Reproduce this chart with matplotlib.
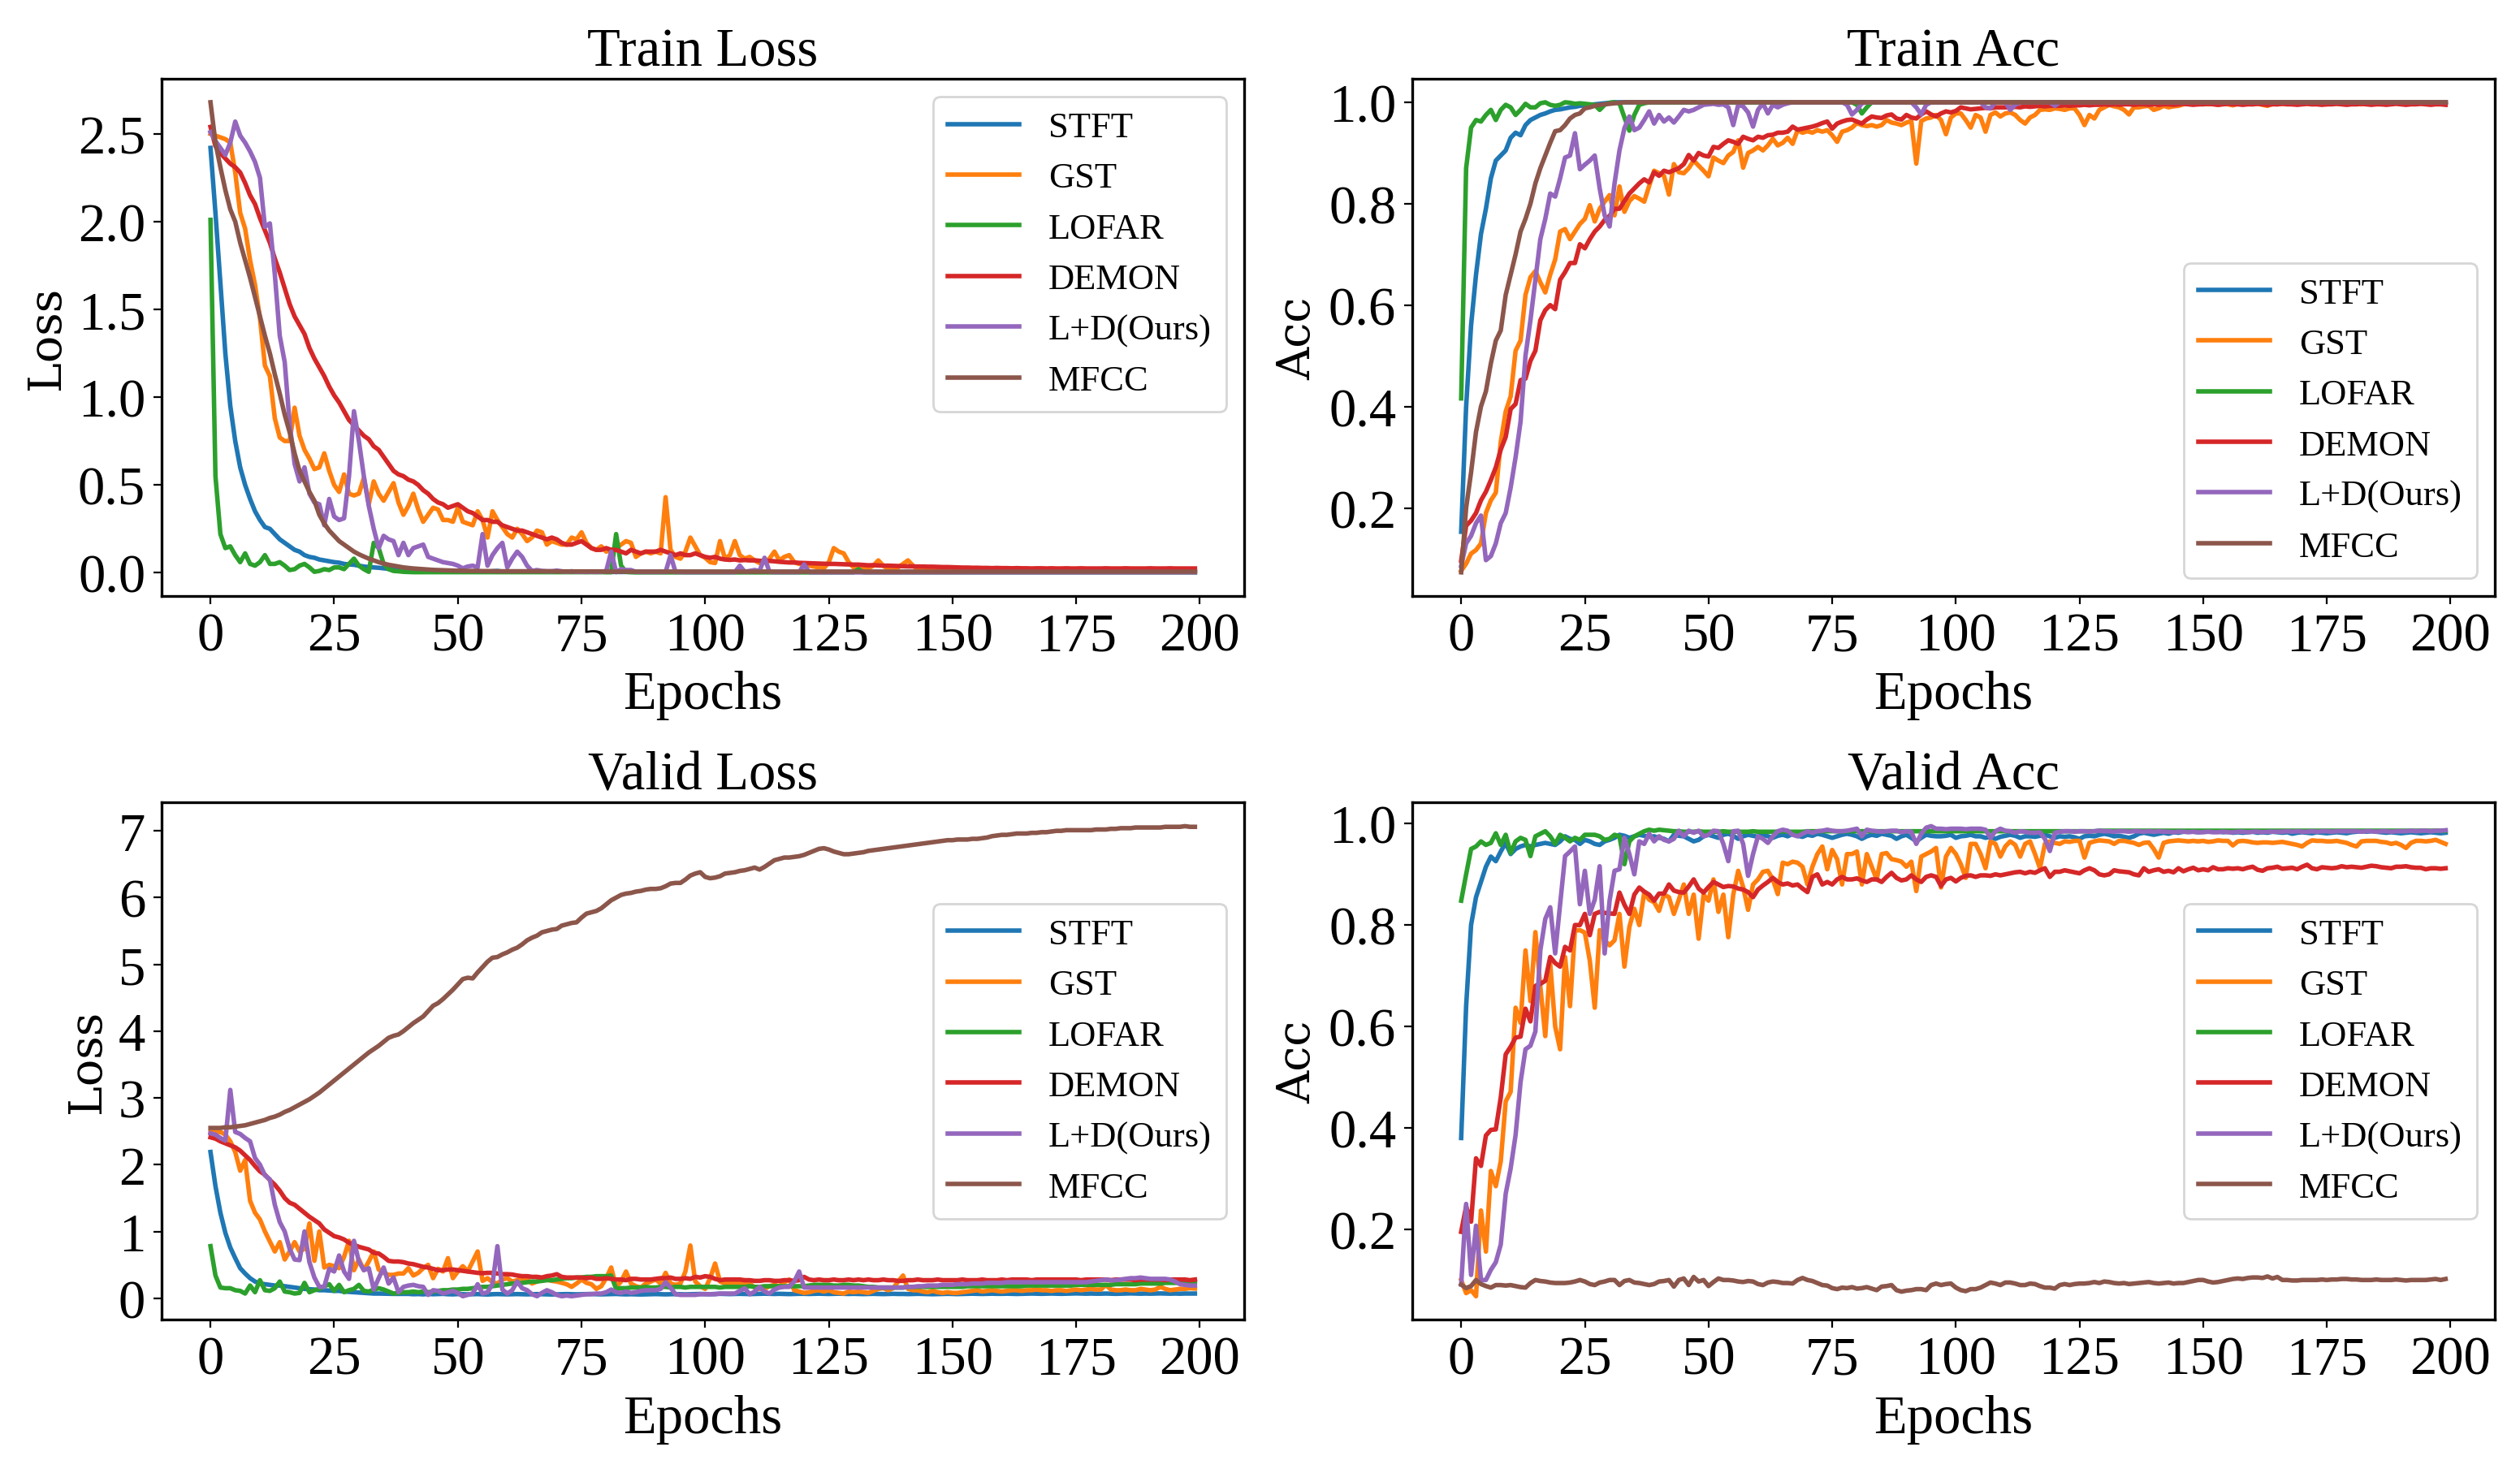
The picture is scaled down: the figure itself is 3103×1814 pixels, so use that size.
import numpy as np
import matplotlib
matplotlib.use('Agg')
import matplotlib.pyplot as plt

plt.rcParams['font.family'] = ['Liberation Serif', 'DejaVu Serif']

names = ['STFT', 'GST', 'LOFAR', 'DEMON', 'L+D(Ours)', 'MFCC']

# ---------------- train loss ----------------
tl_stft = [
    2.42, 2.05, 1.65, 1.25, 0.95, 0.75, 0.60, 0.50, 0.42, 0.35, 0.30, 0.26, 0.25, 0.22, 0.19, 0.17, 0.15, 0.13, 0.12, 0.10,
    0.09, 0.085, 0.075, 0.07, 0.065, 0.06, 0.057, 0.05, 0.047, 0.045, 0.04, 0.035, 0.032, 0.03, 0.028, 0.025, 0.022, 0.02, 0.018, 0.016,
    0.014, 0.013, 0.012, 0.011, 0.010, 0.009, 0.009, 0.008, 0.008, 0.007, 0.007, 0.006, 0.006, 0.006, 0.006, 0.005, 0.005, 0.008, 0.010, 0.006,
    0.005, 0.005, 0.005, 0.005, 0.005, 0.005, 0.005, 0.005, 0.005, 0.005, 0.005, 0.005, 0.005, 0.005, 0.005, 0.005, 0.005, 0.005, 0.005, 0.005,
    0.004, 0.004, 0.004, 0.004, 0.004, 0.004, 0.004, 0.004, 0.004, 0.004, 0.004, 0.004, 0.004, 0.004, 0.004, 0.004, 0.004, 0.004, 0.004, 0.004,
    0.004, 0.004, 0.004, 0.004, 0.004, 0.004, 0.004, 0.004, 0.004, 0.004, 0.004, 0.004, 0.004, 0.004, 0.004, 0.004, 0.004, 0.004, 0.004, 0.004,
    0.004, 0.004, 0.004, 0.004, 0.004, 0.004, 0.004, 0.004, 0.004, 0.004, 0.004, 0.004, 0.004, 0.004, 0.004, 0.004, 0.004, 0.004, 0.004, 0.004,
    0.004, 0.004, 0.004, 0.004, 0.004, 0.004, 0.004, 0.004, 0.004, 0.004, 0.004, 0.004, 0.004, 0.004, 0.004, 0.004, 0.004, 0.004, 0.004, 0.004,
    0.004, 0.004, 0.004, 0.004, 0.004, 0.004, 0.004, 0.004, 0.004, 0.004, 0.004, 0.004, 0.004, 0.004, 0.004, 0.004, 0.004, 0.004, 0.004, 0.004,
    0.004, 0.004, 0.004, 0.004, 0.004, 0.004, 0.004, 0.004, 0.004, 0.004, 0.004, 0.004, 0.004, 0.004, 0.004, 0.004, 0.004, 0.004, 0.004, 0.004,
]
tl_gst = [
    2.50, 2.49, 2.48, 2.47, 2.45, 2.28, 2.05, 1.96, 1.78, 1.64, 1.45, 1.18, 1.12, 0.88, 0.77, 0.75, 0.75, 0.94, 0.78, 0.70,
    0.65, 0.59, 0.60, 0.68, 0.58, 0.50, 0.46, 0.56, 0.45, 0.44, 0.45, 0.54, 0.39, 0.52, 0.45, 0.41, 0.46, 0.51, 0.40, 0.33,
    0.38, 0.45, 0.36, 0.29, 0.33, 0.37, 0.36, 0.30, 0.30, 0.29, 0.37, 0.29, 0.28, 0.27, 0.35, 0.30, 0.20, 0.35, 0.30, 0.26,
    0.22, 0.20, 0.25, 0.22, 0.18, 0.20, 0.24, 0.23, 0.16, 0.18, 0.17, 0.16, 0.16, 0.20, 0.19, 0.23, 0.17, 0.14, 0.13, 0.15,
    0.12, 0.13, 0.14, 0.16, 0.18, 0.17, 0.09, 0.11, 0.12, 0.11, 0.12, 0.11, 0.43, 0.13, 0.09, 0.08, 0.12, 0.20, 0.15, 0.10,
    0.085, 0.06, 0.055, 0.18, 0.08, 0.10, 0.18, 0.10, 0.08, 0.09, 0.07, 0.055, 0.06, 0.08, 0.12, 0.07, 0.09, 0.10, 0.06, 0.05,
    0.045, 0.04, 0.035, 0.03, 0.025, 0.06, 0.14, 0.12, 0.11, 0.06, 0.03, 0.025, 0.02, 0.025, 0.04, 0.07, 0.04, 0.02, 0.018, 0.03,
    0.05, 0.07, 0.04, 0.02, 0.018, 0.016, 0.02, 0.015, 0.014, 0.013, 0.03, 0.015, 0.013, 0.012, 0.012, 0.014, 0.012, 0.012, 0.011, 0.012,
    0.011, 0.012, 0.011, 0.011, 0.012, 0.011, 0.010, 0.011, 0.012, 0.011, 0.010, 0.011, 0.010, 0.011, 0.010, 0.010, 0.011, 0.010, 0.010, 0.011,
    0.010, 0.010, 0.010, 0.010, 0.010, 0.010, 0.010, 0.010, 0.010, 0.010, 0.010, 0.010, 0.010, 0.010, 0.010, 0.010, 0.010, 0.010, 0.010, 0.010,
]
tl_lofar = [
    2.01, 0.55, 0.22, 0.14, 0.15, 0.10, 0.06, 0.11, 0.05, 0.04, 0.06, 0.10, 0.05, 0.05, 0.06, 0.04, 0.015, 0.02, 0.04, 0.05,
    0.03, 0.005, 0.01, 0.02, 0.015, 0.03, 0.03, 0.02, 0.05, 0.08, 0.04, 0.02, 0.005, 0.17, 0.14, 0.05, 0.02, 0.01, 0.008, 0.005,
    0.004, 0.003, 0.003, 0.003, 0.003, 0.003, 0.003, 0.003, 0.003, 0.003, 0.003, 0.003, 0.003, 0.003, 0.003, 0.003, 0.003, 0.003, 0.003, 0.003,
    0.003, 0.003, 0.003, 0.003, 0.003, 0.003, 0.003, 0.003, 0.003, 0.003, 0.003, 0.003, 0.003, 0.003, 0.003, 0.003, 0.003, 0.003, 0.003, 0.003,
    0.003, 0.003, 0.22, 0.04, 0.005, 0.003, 0.002, 0.002, 0.002, 0.002, 0.002, 0.002, 0.002, 0.002, 0.002, 0.002, 0.002, 0.002, 0.002, 0.002,
    0.002, 0.002, 0.002, 0.002, 0.002, 0.002, 0.002, 0.002, 0.002, 0.002, 0.002, 0.002, 0.002, 0.002, 0.002, 0.002, 0.002, 0.002, 0.002, 0.002,
    0.002, 0.002, 0.002, 0.002, 0.002, 0.002, 0.002, 0.002, 0.002, 0.002, 0.002, 0.02, 0.002, 0.002, 0.002, 0.002, 0.002, 0.002, 0.002, 0.002,
    0.002, 0.002, 0.002, 0.002, 0.002, 0.002, 0.002, 0.002, 0.002, 0.002, 0.002, 0.002, 0.002, 0.002, 0.002, 0.002, 0.002, 0.002, 0.002, 0.002,
    0.002, 0.002, 0.002, 0.002, 0.002, 0.002, 0.002, 0.002, 0.002, 0.002, 0.002, 0.002, 0.002, 0.002, 0.002, 0.002, 0.002, 0.002, 0.002, 0.002,
    0.002, 0.002, 0.002, 0.002, 0.002, 0.002, 0.002, 0.002, 0.002, 0.002, 0.002, 0.002, 0.002, 0.002, 0.002, 0.002, 0.002, 0.002, 0.002, 0.002,
]
tl_demon = [
    2.54, 2.43, 2.39, 2.36, 2.33, 2.31, 2.28, 2.22, 2.15, 2.10, 2.02, 1.95, 1.88, 1.79, 1.71, 1.62, 1.53, 1.46, 1.41, 1.36,
    1.28, 1.22, 1.17, 1.12, 1.06, 1.01, 0.97, 0.92, 0.87, 0.84, 0.81, 0.78, 0.76, 0.72, 0.70, 0.66, 0.62, 0.58, 0.56, 0.55,
    0.53, 0.52, 0.50, 0.47, 0.45, 0.42, 0.40, 0.39, 0.37, 0.38, 0.39, 0.37, 0.35, 0.34, 0.32, 0.30, 0.30, 0.29, 0.29, 0.27,
    0.26, 0.25, 0.24, 0.24, 0.23, 0.22, 0.21, 0.20, 0.19, 0.20, 0.19, 0.17, 0.16, 0.16, 0.17, 0.18, 0.16, 0.14, 0.13, 0.13,
    0.14, 0.13, 0.13, 0.12, 0.11, 0.13, 0.12, 0.11, 0.12, 0.12, 0.12, 0.13, 0.12, 0.11, 0.10, 0.11, 0.10, 0.10, 0.11, 0.10,
    0.09, 0.085, 0.09, 0.08, 0.075, 0.073, 0.075, 0.07, 0.072, 0.07, 0.07, 0.068, 0.066, 0.067, 0.065, 0.062, 0.06, 0.058, 0.058, 0.056,
    0.055, 0.054, 0.053, 0.052, 0.051, 0.05, 0.05, 0.049, 0.048, 0.047, 0.046, 0.046, 0.044, 0.042, 0.043, 0.041, 0.04, 0.04, 0.039, 0.038,
    0.037, 0.036, 0.036, 0.035, 0.035, 0.034, 0.034, 0.033, 0.032, 0.032, 0.031, 0.03, 0.029, 0.029, 0.028, 0.028, 0.027, 0.027, 0.026, 0.027,
    0.026, 0.026, 0.025, 0.026, 0.025, 0.025, 0.024, 0.025, 0.025, 0.024, 0.025, 0.024, 0.024, 0.025, 0.024, 0.024, 0.025, 0.024, 0.024, 0.024,
    0.024, 0.025, 0.024, 0.024, 0.024, 0.025, 0.024, 0.024, 0.024, 0.024, 0.025, 0.024, 0.024, 0.024, 0.025, 0.024, 0.024, 0.024, 0.024, 0.024,
]
tl_ld = [
    2.51, 2.46, 2.42, 2.38, 2.45, 2.57, 2.49, 2.45, 2.40, 2.34, 2.25, 1.97, 1.99, 1.70, 1.35, 1.20, 0.85, 0.62, 0.52, 0.60,
    0.45, 0.40, 0.39, 0.27, 0.42, 0.32, 0.30, 0.31, 0.55, 0.92, 0.75, 0.55, 0.38, 0.25, 0.14, 0.21, 0.19, 0.18, 0.10, 0.17,
    0.10, 0.14, 0.15, 0.16, 0.09, 0.08, 0.07, 0.06, 0.055, 0.05, 0.04, 0.025, 0.035, 0.04, 0.03, 0.22, 0.04, 0.10, 0.14, 0.17,
    0.03, 0.08, 0.12, 0.09, 0.04, 0.01, 0.015, 0.01, 0.008, 0.008, 0.012, 0.008, 0.005, 0.008, 0.005, 0.005, 0.004, 0.005, 0.004, 0.005,
    0.01, 0.12, 0.003, 0.02, 0.015, 0.015, 0.005, 0.004, 0.004, 0.004, 0.004, 0.004, 0.004, 0.10, 0.004, 0.004, 0.003, 0.003, 0.003, 0.003,
    0.003, 0.003, 0.003, 0.003, 0.003, 0.003, 0.003, 0.04, 0.005, 0.01, 0.015, 0.01, 0.085, 0.005, 0.003, 0.003, 0.003, 0.003, 0.003, 0.003,
    0.047, 0.003, 0.002, 0.002, 0.002, 0.002, 0.002, 0.002, 0.002, 0.002, 0.002, 0.002, 0.002, 0.002, 0.002, 0.002, 0.002, 0.002, 0.002, 0.002,
    0.002, 0.002, 0.002, 0.002, 0.002, 0.002, 0.002, 0.002, 0.002, 0.002, 0.002, 0.002, 0.002, 0.002, 0.002, 0.002, 0.002, 0.002, 0.002, 0.002,
    0.002, 0.002, 0.002, 0.002, 0.002, 0.002, 0.002, 0.002, 0.002, 0.002, 0.002, 0.002, 0.002, 0.002, 0.002, 0.002, 0.002, 0.002, 0.002, 0.002,
    0.002, 0.002, 0.002, 0.002, 0.002, 0.002, 0.002, 0.002, 0.002, 0.002, 0.002, 0.002, 0.002, 0.002, 0.002, 0.002, 0.002, 0.002, 0.002, 0.002,
]
tl_mfcc = [
    2.68, 2.45, 2.31, 2.18, 2.07, 2.00, 1.88, 1.78, 1.68, 1.57, 1.46, 1.35, 1.25, 1.13, 1.02, 0.90, 0.80, 0.68, 0.58, 0.52,
    0.46, 0.41, 0.33, 0.28, 0.24, 0.21, 0.18, 0.16, 0.14, 0.12, 0.105, 0.092, 0.08, 0.07, 0.06, 0.052, 0.045, 0.04, 0.035, 0.03,
    0.027, 0.024, 0.022, 0.02, 0.018, 0.016, 0.015, 0.014, 0.013, 0.012, 0.011, 0.011, 0.01, 0.01, 0.01, 0.009, 0.009, 0.009, 0.008, 0.008,
    0.008, 0.008, 0.008, 0.008, 0.008, 0.008, 0.008, 0.008, 0.008, 0.008, 0.007, 0.007, 0.007, 0.007, 0.007, 0.007, 0.007, 0.007, 0.007, 0.007,
    0.006, 0.006, 0.006, 0.006, 0.006, 0.006, 0.006, 0.006, 0.006, 0.006, 0.006, 0.006, 0.006, 0.006, 0.006, 0.006, 0.006, 0.006, 0.006, 0.006,
    0.006, 0.006, 0.006, 0.006, 0.006, 0.006, 0.006, 0.006, 0.006, 0.006, 0.006, 0.006, 0.006, 0.006, 0.006, 0.006, 0.006, 0.006, 0.006, 0.006,
    0.006, 0.006, 0.006, 0.006, 0.006, 0.006, 0.006, 0.006, 0.006, 0.006, 0.006, 0.006, 0.006, 0.006, 0.006, 0.006, 0.006, 0.006, 0.006, 0.006,
    0.006, 0.006, 0.006, 0.006, 0.006, 0.006, 0.006, 0.006, 0.006, 0.006, 0.006, 0.006, 0.006, 0.006, 0.006, 0.006, 0.006, 0.006, 0.006, 0.006,
    0.006, 0.006, 0.006, 0.006, 0.006, 0.006, 0.006, 0.006, 0.006, 0.006, 0.006, 0.006, 0.006, 0.006, 0.006, 0.006, 0.006, 0.006, 0.006, 0.006,
    0.006, 0.006, 0.006, 0.006, 0.006, 0.006, 0.006, 0.006, 0.006, 0.006, 0.006, 0.006, 0.006, 0.006, 0.006, 0.006, 0.006, 0.006, 0.006, 0.006,
]

# ---------------- train acc ----------------
ta_stft = [
    0.153, 0.40, 0.56, 0.66, 0.74, 0.79, 0.85, 0.885, 0.895, 0.905, 0.93, 0.94, 0.935, 0.955, 0.965, 0.97, 0.975, 0.978, 0.982, 0.985,
    0.986, 0.988, 0.99, 0.991, 0.993, 0.994, 0.995, 0.996, 0.997, 0.998, 0.999, 1.0, 1.0, 1.0, 1.0, 1.0, 1.0, 1.0, 1.0, 1.0,
    1.0, 1.0, 1.0, 1.0, 1.0, 1.0, 1.0, 1.0, 1.0, 1.0, 1.0, 1.0, 1.0, 1.0, 1.0, 1.0, 1.0, 1.0, 1.0, 1.0,
    1.0, 1.0, 1.0, 1.0, 1.0, 1.0, 1.0, 1.0, 1.0, 1.0, 1.0, 1.0, 1.0, 1.0, 1.0, 1.0, 1.0, 1.0, 1.0, 1.0,
    1.0, 1.0, 1.0, 1.0, 1.0, 1.0, 1.0, 1.0, 1.0, 1.0, 1.0, 1.0, 1.0, 1.0, 1.0, 1.0, 1.0, 1.0, 1.0, 1.0,
    1.0, 1.0, 1.0, 1.0, 1.0, 1.0, 1.0, 1.0, 1.0, 1.0, 1.0, 1.0, 1.0, 1.0, 1.0, 1.0, 1.0, 1.0, 1.0, 1.0,
    1.0, 1.0, 1.0, 1.0, 1.0, 1.0, 1.0, 1.0, 1.0, 1.0, 1.0, 1.0, 1.0, 1.0, 1.0, 1.0, 1.0, 1.0, 1.0, 1.0,
    1.0, 1.0, 1.0, 1.0, 1.0, 1.0, 1.0, 1.0, 1.0, 1.0, 1.0, 1.0, 1.0, 1.0, 1.0, 1.0, 1.0, 1.0, 1.0, 1.0,
    1.0, 1.0, 1.0, 1.0, 1.0, 1.0, 1.0, 1.0, 1.0, 1.0, 1.0, 1.0, 1.0, 1.0, 1.0, 1.0, 1.0, 1.0, 1.0, 1.0,
    1.0, 1.0, 1.0, 1.0, 1.0, 1.0, 1.0, 1.0, 1.0, 1.0, 1.0, 1.0, 1.0, 1.0, 1.0, 1.0, 1.0, 1.0, 1.0, 1.0,
]
ta_gst = [
    0.076, 0.09, 0.11, 0.117, 0.13, 0.19, 0.215, 0.23, 0.33, 0.39, 0.42, 0.51, 0.53, 0.62, 0.655, 0.667, 0.645, 0.625, 0.66, 0.69,
    0.745, 0.75, 0.73, 0.745, 0.76, 0.77, 0.797, 0.765, 0.79, 0.804, 0.817, 0.777, 0.834, 0.784, 0.805, 0.815, 0.81, 0.804, 0.835, 0.865,
    0.86, 0.855, 0.818, 0.878, 0.862, 0.86, 0.87, 0.885, 0.875, 0.865, 0.854, 0.891, 0.885, 0.88, 0.895, 0.902, 0.925, 0.871, 0.90, 0.905,
    0.912, 0.905, 0.915, 0.928, 0.915, 0.92, 0.93, 0.918, 0.945, 0.94, 0.943, 0.94, 0.945, 0.942, 0.945, 0.935, 0.922, 0.942, 0.945, 0.95,
    0.959, 0.955, 0.953, 0.955, 0.952, 0.955, 0.965, 0.96, 0.958, 0.955, 0.96, 0.963, 0.879, 0.963, 0.968, 0.97, 0.975, 0.965, 0.937, 0.97,
    0.978, 0.978, 0.965, 0.95, 0.975, 0.97, 0.942, 0.975, 0.98, 0.972, 0.978, 0.98, 0.975, 0.965, 0.958, 0.97, 0.975, 0.985, 0.986, 0.985,
    0.988, 0.987, 0.985, 0.988, 0.988, 0.975, 0.955, 0.975, 0.968, 0.985, 0.99, 0.995, 0.992, 0.99, 0.985, 0.976, 0.99, 0.99, 0.992, 0.993,
    0.985, 0.988, 0.993, 0.99, 0.992, 0.993, 0.996, 0.997, 0.997, 0.996, 0.997, 0.996, 0.997, 0.995, 0.997, 0.996, 0.994, 0.997, 0.996, 0.997,
    0.996, 0.997, 0.995, 0.993, 0.997, 0.996, 0.997, 0.998, 0.996, 0.997, 0.998, 0.997, 0.996, 0.998, 0.997, 0.996, 0.998, 0.997, 0.998, 0.997,
    0.998, 0.997, 0.996, 0.998, 0.997, 0.998, 0.996, 0.998, 0.997, 0.998, 0.997, 0.996, 0.998, 0.998, 0.997, 0.998, 0.997, 0.998, 0.998, 0.997,
]
ta_lofar = [
    0.416, 0.87, 0.95, 0.965, 0.962, 0.975, 0.985, 0.965, 0.985, 0.995, 0.99, 0.975, 0.985, 0.997, 0.99, 0.99, 0.998, 1.0, 0.995, 0.993,
    0.995, 1.0, 0.999, 0.997, 0.998, 0.997, 0.996, 0.995, 0.985, 0.995, 0.999, 1.0, 0.998, 0.97, 0.944, 0.975, 0.995, 0.998, 1.0, 1.0,
    1.0, 1.0, 1.0, 1.0, 1.0, 1.0, 1.0, 1.0, 1.0, 1.0, 1.0, 1.0, 1.0, 1.0, 1.0, 1.0, 1.0, 1.0, 1.0, 1.0,
    1.0, 1.0, 1.0, 1.0, 1.0, 1.0, 1.0, 1.0, 1.0, 1.0, 1.0, 1.0, 1.0, 1.0, 1.0, 1.0, 1.0, 1.0, 1.0, 1.0,
    0.995, 0.978, 0.99, 1.0, 1.0, 1.0, 1.0, 1.0, 1.0, 1.0, 1.0, 1.0, 1.0, 1.0, 1.0, 1.0, 1.0, 1.0, 1.0, 1.0,
    1.0, 1.0, 1.0, 1.0, 1.0, 1.0, 1.0, 1.0, 1.0, 1.0, 1.0, 1.0, 1.0, 1.0, 1.0, 1.0, 1.0, 1.0, 1.0, 1.0,
    1.0, 1.0, 1.0, 1.0, 1.0, 1.0, 1.0, 1.0, 1.0, 1.0, 1.0, 1.0, 1.0, 1.0, 1.0, 1.0, 1.0, 1.0, 1.0, 1.0,
    1.0, 1.0, 1.0, 1.0, 1.0, 1.0, 1.0, 1.0, 1.0, 1.0, 1.0, 1.0, 1.0, 1.0, 1.0, 1.0, 1.0, 1.0, 1.0, 1.0,
    1.0, 1.0, 1.0, 1.0, 1.0, 1.0, 1.0, 1.0, 1.0, 1.0, 1.0, 1.0, 1.0, 1.0, 1.0, 1.0, 1.0, 1.0, 1.0, 1.0,
    1.0, 1.0, 1.0, 1.0, 1.0, 1.0, 1.0, 1.0, 1.0, 1.0, 1.0, 1.0, 1.0, 1.0, 1.0, 1.0, 1.0, 1.0, 1.0, 1.0,
]
ta_demon = [
    0.096, 0.165, 0.175, 0.19, 0.215, 0.232, 0.255, 0.28, 0.315, 0.34, 0.395, 0.405, 0.452, 0.455, 0.49, 0.51, 0.57, 0.59, 0.60, 0.592,
    0.65, 0.665, 0.683, 0.683, 0.72, 0.712, 0.73, 0.745, 0.755, 0.768, 0.776, 0.79, 0.79, 0.805, 0.82, 0.83, 0.84, 0.848, 0.842, 0.862,
    0.855, 0.865, 0.862, 0.866, 0.87, 0.878, 0.896, 0.885, 0.90, 0.895, 0.893, 0.912, 0.91, 0.918, 0.925, 0.922, 0.918, 0.932, 0.928, 0.925,
    0.932, 0.93, 0.935, 0.936, 0.94, 0.94, 0.942, 0.952, 0.946, 0.948, 0.95, 0.952, 0.955, 0.959, 0.962, 0.948, 0.958, 0.962, 0.965, 0.966,
    0.962, 0.958, 0.966, 0.972, 0.97, 0.969, 0.974, 0.976, 0.968, 0.966, 0.975, 0.97, 0.968, 0.976, 0.982, 0.976, 0.972, 0.978, 0.982, 0.98,
    0.983, 0.99, 0.988, 0.986, 0.987, 0.988, 0.989, 0.988, 0.99, 0.99, 0.99, 0.99, 0.991, 0.99, 0.992, 0.991, 0.992, 0.993, 0.992, 0.993,
    0.993, 0.993, 0.994, 0.993, 0.994, 0.994, 0.995, 0.994, 0.995, 0.995, 0.996, 0.995, 0.996, 0.995, 0.996, 0.996, 0.995, 0.996, 0.996, 0.995,
    0.996, 0.995, 0.996, 0.996, 0.995, 0.996, 0.997, 0.996, 0.995, 0.996, 0.996, 0.997, 0.996, 0.995, 0.996, 0.997, 0.996, 0.996, 0.995, 0.996,
    0.996, 0.997, 0.996, 0.995, 0.996, 0.996, 0.997, 0.996, 0.996, 0.995, 0.996, 0.997, 0.996, 0.996, 0.995, 0.996, 0.996, 0.997, 0.996, 0.995,
    0.996, 0.996, 0.997, 0.996, 0.995, 0.996, 0.996, 0.995, 0.996, 0.997, 0.996, 0.995, 0.996, 0.996, 0.997, 0.996, 0.995, 0.996, 0.996, 0.995,
]
ta_ld = [
    0.086, 0.13, 0.145, 0.17, 0.185, 0.097, 0.105, 0.13, 0.17, 0.19, 0.24, 0.30, 0.37, 0.50, 0.57, 0.65, 0.73, 0.77, 0.82, 0.814,
    0.85, 0.891, 0.895, 0.939, 0.868, 0.877, 0.885, 0.895, 0.83, 0.777, 0.755, 0.84, 0.905, 0.949, 0.972, 0.945, 0.95, 0.965, 0.982, 0.958,
    0.975, 0.962, 0.97, 0.96, 0.972, 0.985, 0.982, 0.985, 0.99, 0.995, 0.996, 0.997, 0.995, 0.996, 0.99, 0.955, 0.995, 0.992, 0.98, 0.952,
    0.985, 0.998, 0.978, 0.995, 0.99, 0.995, 0.998, 1.0, 1.0, 1.0, 1.0, 1.0, 1.0, 1.0, 1.0, 1.0, 1.0, 1.0, 0.995, 0.976,
    0.985, 0.998, 1.0, 1.0, 1.0, 1.0, 1.0, 1.0, 1.0, 1.0, 1.0, 1.0, 0.99, 0.976, 0.995, 1.0, 1.0, 1.0, 1.0, 1.0,
    1.0, 1.0, 1.0, 1.0, 1.0, 1.0, 0.99, 0.988, 1.0, 1.0, 1.0, 0.985, 0.995, 1.0, 1.0, 1.0, 1.0, 1.0, 1.0, 1.0,
    0.993, 1.0, 1.0, 1.0, 1.0, 1.0, 1.0, 1.0, 1.0, 1.0, 1.0, 1.0, 1.0, 1.0, 1.0, 1.0, 1.0, 1.0, 1.0, 1.0,
    1.0, 1.0, 1.0, 1.0, 1.0, 1.0, 1.0, 1.0, 1.0, 1.0, 1.0, 1.0, 1.0, 1.0, 1.0, 1.0, 1.0, 1.0, 1.0, 1.0,
    1.0, 1.0, 1.0, 1.0, 1.0, 1.0, 1.0, 1.0, 1.0, 1.0, 1.0, 1.0, 1.0, 1.0, 1.0, 1.0, 1.0, 1.0, 1.0, 1.0,
    1.0, 1.0, 1.0, 1.0, 1.0, 1.0, 1.0, 1.0, 1.0, 1.0, 1.0, 1.0, 1.0, 1.0, 1.0, 1.0, 1.0, 1.0, 1.0, 1.0,
]
ta_mfcc = [
    0.073, 0.20, 0.27, 0.35, 0.40, 0.43, 0.485, 0.53, 0.55, 0.62, 0.66, 0.70, 0.745, 0.77, 0.80, 0.84, 0.87, 0.895, 0.92, 0.943,
    0.945, 0.955, 0.968, 0.975, 0.978, 0.988, 0.99, 0.993, 0.995, 0.996, 0.997, 0.998, 0.999, 1.0, 1.0, 1.0, 1.0, 1.0, 1.0, 1.0,
    1.0, 1.0, 1.0, 1.0, 1.0, 1.0, 1.0, 1.0, 1.0, 1.0, 1.0, 1.0, 1.0, 1.0, 1.0, 1.0, 1.0, 1.0, 1.0, 1.0,
    1.0, 1.0, 1.0, 1.0, 1.0, 1.0, 1.0, 1.0, 1.0, 1.0, 1.0, 1.0, 1.0, 1.0, 1.0, 1.0, 1.0, 1.0, 1.0, 1.0,
    1.0, 1.0, 1.0, 1.0, 1.0, 1.0, 1.0, 1.0, 1.0, 1.0, 1.0, 1.0, 1.0, 1.0, 1.0, 1.0, 1.0, 1.0, 1.0, 1.0,
    1.0, 1.0, 1.0, 1.0, 1.0, 1.0, 1.0, 1.0, 1.0, 1.0, 1.0, 1.0, 1.0, 1.0, 1.0, 1.0, 1.0, 1.0, 1.0, 1.0,
    1.0, 1.0, 1.0, 1.0, 1.0, 1.0, 1.0, 1.0, 1.0, 1.0, 1.0, 1.0, 1.0, 1.0, 1.0, 1.0, 1.0, 1.0, 1.0, 1.0,
    1.0, 1.0, 1.0, 1.0, 1.0, 1.0, 1.0, 1.0, 1.0, 1.0, 1.0, 1.0, 1.0, 1.0, 1.0, 1.0, 1.0, 1.0, 1.0, 1.0,
    1.0, 1.0, 1.0, 1.0, 1.0, 1.0, 1.0, 1.0, 1.0, 1.0, 1.0, 1.0, 1.0, 1.0, 1.0, 1.0, 1.0, 1.0, 1.0, 1.0,
    1.0, 1.0, 1.0, 1.0, 1.0, 1.0, 1.0, 1.0, 1.0, 1.0, 1.0, 1.0, 1.0, 1.0, 1.0, 1.0, 1.0, 1.0, 1.0, 1.0,
]

# ---------------- valid loss ----------------
vl_stft = [
    2.19, 1.68, 1.28, 0.98, 0.76, 0.60, 0.45, 0.37, 0.30, 0.25, 0.22, 0.21, 0.20, 0.19, 0.19, 0.18, 0.17, 0.16, 0.15, 0.14,
    0.135, 0.13, 0.12, 0.12, 0.115, 0.11, 0.11, 0.10, 0.095, 0.09, 0.085, 0.08, 0.075, 0.07, 0.07, 0.068, 0.066, 0.065, 0.065, 0.064,
    0.065, 0.06, 0.062, 0.058, 0.064, 0.06, 0.062, 0.065, 0.06, 0.058, 0.062, 0.06, 0.058, 0.06, 0.062, 0.058, 0.056, 0.06, 0.062, 0.06,
    0.058, 0.06, 0.062, 0.06, 0.058, 0.06, 0.062, 0.06, 0.058, 0.056, 0.058, 0.06, 0.062, 0.06, 0.058, 0.06, 0.062, 0.064, 0.06, 0.058,
    0.06, 0.062, 0.064, 0.06, 0.058, 0.06, 0.058, 0.056, 0.058, 0.06, 0.062, 0.06, 0.058, 0.06, 0.062, 0.06, 0.058, 0.06, 0.062, 0.064,
    0.062, 0.06, 0.064, 0.066, 0.064, 0.062, 0.064, 0.066, 0.064, 0.062, 0.064, 0.066, 0.068, 0.066, 0.064, 0.066, 0.064, 0.062, 0.064, 0.066,
    0.066, 0.064, 0.066, 0.068, 0.066, 0.064, 0.066, 0.068, 0.066, 0.064, 0.066, 0.064, 0.062, 0.064, 0.066, 0.064, 0.062, 0.064, 0.066, 0.064,
    0.064, 0.062, 0.064, 0.066, 0.064, 0.062, 0.06, 0.062, 0.064, 0.066, 0.064, 0.062, 0.064, 0.066, 0.068, 0.066, 0.064, 0.066, 0.068, 0.066,
    0.066, 0.068, 0.066, 0.064, 0.066, 0.068, 0.07, 0.068, 0.066, 0.068, 0.07, 0.068, 0.066, 0.068, 0.07, 0.072, 0.07, 0.068, 0.07, 0.068,
    0.068, 0.07, 0.068, 0.066, 0.068, 0.07, 0.072, 0.07, 0.068, 0.07, 0.068, 0.07, 0.072, 0.07, 0.068, 0.07, 0.068, 0.07, 0.07, 0.07,
]
vl_gst = [
    2.49, 2.49, 2.49, 2.45, 2.35, 2.19, 1.91, 2.07, 1.46, 1.28, 1.18, 1.00, 0.85, 0.70, 0.84, 0.58, 0.70, 0.84, 0.70, 0.74,
    1.12, 0.56, 1.00, 0.46, 0.50, 0.48, 0.45, 0.62, 0.86, 0.42, 0.58, 0.42, 0.55, 0.70, 0.43, 0.38, 0.35, 0.35, 0.37, 0.37,
    0.45, 0.34, 0.38, 0.45, 0.50, 0.30, 0.44, 0.40, 0.60, 0.30, 0.40, 0.48, 0.40, 0.55, 0.70, 0.26, 0.30, 0.24, 0.22, 0.28,
    0.30, 0.25, 0.27, 0.30, 0.28, 0.22, 0.25, 0.30, 0.28, 0.26, 0.25, 0.23, 0.21, 0.17, 0.22, 0.28, 0.23, 0.21, 0.14, 0.18,
    0.30, 0.46, 0.17, 0.25, 0.40, 0.22, 0.18, 0.16, 0.22, 0.25, 0.28, 0.22, 0.38, 0.22, 0.20, 0.22, 0.40, 0.79, 0.25, 0.18,
    0.14, 0.30, 0.52, 0.25, 0.22, 0.24, 0.22, 0.24, 0.23, 0.22, 0.16, 0.14, 0.14, 0.18, 0.20, 0.18, 0.24, 0.28, 0.12, 0.10,
    0.08, 0.09, 0.11, 0.12, 0.10, 0.12, 0.09, 0.08, 0.07, 0.10, 0.09, 0.10, 0.09, 0.08, 0.11, 0.14, 0.15, 0.12, 0.15, 0.25,
    0.34, 0.14, 0.12, 0.12, 0.10, 0.09, 0.11, 0.09, 0.08, 0.09, 0.08, 0.08, 0.09, 0.10, 0.11, 0.12, 0.10, 0.11, 0.12, 0.11,
    0.10, 0.11, 0.12, 0.12, 0.11, 0.12, 0.12, 0.13, 0.12, 0.12, 0.11, 0.12, 0.12, 0.11, 0.12, 0.13, 0.12, 0.13, 0.14, 0.13,
    0.13, 0.20, 0.13, 0.12, 0.12, 0.13, 0.12, 0.12, 0.14, 0.13, 0.12, 0.13, 0.17, 0.14, 0.12, 0.13, 0.14, 0.14, 0.15, 0.145,
]
vl_lofar = [
    0.78, 0.34, 0.16, 0.15, 0.15, 0.12, 0.11, 0.07, 0.19, 0.09, 0.27, 0.12, 0.11, 0.15, 0.25, 0.10, 0.09, 0.07, 0.08, 0.23,
    0.09, 0.12, 0.14, 0.18, 0.21, 0.11, 0.20, 0.09, 0.12, 0.14, 0.20, 0.11, 0.10, 0.13, 0.15, 0.13, 0.10, 0.07, 0.08, 0.09,
    0.09, 0.10, 0.09, 0.10, 0.09, 0.10, 0.11, 0.12, 0.12, 0.13, 0.13, 0.14, 0.14, 0.15, 0.16, 0.17, 0.17, 0.18, 0.19, 0.20,
    0.21, 0.22, 0.22, 0.23, 0.24, 0.25, 0.25, 0.26, 0.27, 0.27, 0.28, 0.29, 0.30, 0.30, 0.31, 0.31, 0.32, 0.32, 0.33, 0.33,
    0.33, 0.34, 0.14, 0.15, 0.15, 0.16, 0.16, 0.16, 0.17, 0.16, 0.16, 0.17, 0.17, 0.16, 0.17, 0.17, 0.16, 0.17, 0.17, 0.17,
    0.17, 0.17, 0.17, 0.16, 0.17, 0.17, 0.17, 0.17, 0.17, 0.18, 0.17, 0.17, 0.18, 0.18, 0.18, 0.18, 0.18, 0.18, 0.18, 0.18,
    0.18, 0.19, 0.20, 0.20, 0.20, 0.20, 0.19, 0.19, 0.20, 0.20, 0.19, 0.19, 0.18, 0.17, 0.17, 0.16, 0.16, 0.16, 0.16, 0.16,
    0.16, 0.17, 0.17, 0.17, 0.17, 0.17, 0.17, 0.17, 0.17, 0.17, 0.17, 0.17, 0.17, 0.18, 0.18, 0.18, 0.18, 0.18, 0.18, 0.18,
    0.18, 0.18, 0.18, 0.18, 0.18, 0.19, 0.19, 0.19, 0.19, 0.19, 0.19, 0.19, 0.19, 0.19, 0.19, 0.20, 0.20, 0.20, 0.20, 0.20,
    0.20, 0.20, 0.20, 0.21, 0.21, 0.21, 0.21, 0.21, 0.22, 0.22, 0.22, 0.22, 0.22, 0.23, 0.23, 0.23, 0.23, 0.24, 0.24, 0.24,
]
vl_demon = [
    2.41, 2.39, 2.35, 2.32, 2.29, 2.26, 2.21, 2.14, 2.07, 1.98, 1.90, 1.85, 1.77, 1.70, 1.61, 1.50, 1.43, 1.40, 1.34, 1.28,
    1.22, 1.17, 1.12, 1.03, 0.98, 0.93, 0.91, 0.88, 0.83, 0.80, 0.77, 0.75, 0.73, 0.68, 0.67, 0.62, 0.56, 0.55, 0.55, 0.54,
    0.52, 0.51, 0.49, 0.47, 0.46, 0.44, 0.42, 0.42, 0.43, 0.43, 0.42, 0.41, 0.40, 0.39, 0.38, 0.375, 0.38, 0.38, 0.37, 0.36,
    0.36, 0.355, 0.34, 0.33, 0.33, 0.32, 0.32, 0.31, 0.33, 0.34, 0.36, 0.32, 0.31, 0.31, 0.31, 0.31, 0.30, 0.31, 0.29, 0.29,
    0.30, 0.29, 0.28, 0.28, 0.27, 0.29, 0.29, 0.28, 0.28, 0.28, 0.29, 0.30, 0.30, 0.31, 0.29, 0.29, 0.30, 0.29, 0.32, 0.31,
    0.33, 0.32, 0.29, 0.27, 0.28, 0.28, 0.28, 0.28, 0.27, 0.27, 0.26, 0.26, 0.27, 0.27, 0.26, 0.26, 0.27, 0.27, 0.26, 0.27,
    0.32, 0.28, 0.27, 0.28, 0.27, 0.27, 0.28, 0.27, 0.27, 0.28, 0.27, 0.28, 0.27, 0.28, 0.27, 0.27, 0.28, 0.27, 0.27, 0.26,
    0.26, 0.27, 0.27, 0.28, 0.27, 0.27, 0.27, 0.28, 0.27, 0.27, 0.27, 0.27, 0.28, 0.27, 0.27, 0.27, 0.28, 0.27, 0.27, 0.27,
    0.28, 0.27, 0.28, 0.28, 0.28, 0.28, 0.27, 0.28, 0.28, 0.28, 0.28, 0.28, 0.28, 0.28, 0.28, 0.28, 0.27, 0.28, 0.28, 0.28,
    0.28, 0.28, 0.27, 0.28, 0.28, 0.28, 0.28, 0.27, 0.28, 0.28, 0.28, 0.28, 0.28, 0.27, 0.28, 0.28, 0.28, 0.28, 0.27, 0.28,
]
vl_ld = [
    2.47, 2.45, 2.40, 2.36, 3.12, 2.49, 2.46, 2.40, 2.35, 2.10, 2.00, 1.84, 1.78, 1.40, 1.14, 1.00, 0.74, 0.58, 0.57, 1.00,
    0.54, 0.31, 0.17, 0.17, 0.44, 0.40, 0.64, 0.40, 0.29, 0.86, 0.55, 0.42, 0.45, 0.13, 0.30, 0.46, 0.22, 0.31, 0.09, 0.17,
    0.19, 0.20, 0.18, 0.17, 0.05, 0.12, 0.11, 0.07, 0.09, 0.11, 0.08, 0.03, 0.05, 0.07, 0.21, 0.07, 0.09, 0.21, 0.78, 0.13,
    0.07, 0.12, 0.25, 0.15, 0.12, 0.06, 0.03, 0.08, 0.12, 0.09, 0.05, 0.03, 0.04, 0.03, 0.04, 0.05, 0.06, 0.06, 0.07, 0.07,
    0.09, 0.13, 0.09, 0.08, 0.10, 0.08, 0.09, 0.11, 0.12, 0.12, 0.12, 0.14, 0.24, 0.16, 0.06, 0.05, 0.05, 0.05, 0.05, 0.06,
    0.06, 0.06, 0.06, 0.07, 0.07, 0.07, 0.07, 0.11, 0.15, 0.06, 0.10, 0.17, 0.10, 0.07, 0.13, 0.16, 0.17, 0.17, 0.25, 0.40,
    0.16, 0.16, 0.16, 0.16, 0.16, 0.16, 0.16, 0.16, 0.16, 0.16, 0.16, 0.16, 0.16, 0.16, 0.16, 0.16, 0.16, 0.16, 0.16, 0.16,
    0.16, 0.17, 0.17, 0.18, 0.18, 0.19, 0.19, 0.19, 0.20, 0.20, 0.20, 0.21, 0.21, 0.21, 0.22, 0.22, 0.22, 0.23, 0.23, 0.23,
    0.23, 0.24, 0.24, 0.24, 0.24, 0.24, 0.24, 0.24, 0.24, 0.24, 0.24, 0.24, 0.24, 0.24, 0.24, 0.24, 0.24, 0.24, 0.25, 0.26,
    0.27, 0.28, 0.27, 0.27, 0.28, 0.29, 0.30, 0.30, 0.31, 0.30, 0.29, 0.29, 0.29, 0.29, 0.28, 0.25, 0.21, 0.20, 0.19, 0.19,
]
vl_mfcc = [
    2.55, 2.55, 2.55, 2.56, 2.56, 2.57, 2.58, 2.59, 2.61, 2.63, 2.65, 2.67, 2.70, 2.72, 2.75, 2.79, 2.82, 2.86, 2.90, 2.94,
    2.98, 3.03, 3.08, 3.14, 3.20, 3.26, 3.32, 3.38, 3.44, 3.50, 3.56, 3.62, 3.68, 3.73, 3.78, 3.84, 3.90, 3.93, 3.95, 4.00,
    4.06, 4.12, 4.17, 4.22, 4.30, 4.38, 4.42, 4.48, 4.55, 4.62, 4.70, 4.78, 4.80, 4.79, 4.88, 4.96, 5.04, 5.10, 5.11, 5.15,
    5.18, 5.22, 5.25, 5.30, 5.36, 5.40, 5.43, 5.48, 5.50, 5.52, 5.53, 5.58, 5.60, 5.62, 5.63, 5.70, 5.76, 5.78, 5.80, 5.84,
    5.90, 5.96, 6.00, 6.04, 6.06, 6.07, 6.09, 6.10, 6.12, 6.13, 6.13, 6.14, 6.17, 6.21, 6.22, 6.22, 6.27, 6.33, 6.36, 6.38,
    6.31, 6.29, 6.30, 6.32, 6.36, 6.37, 6.38, 6.40, 6.41, 6.43, 6.45, 6.42, 6.46, 6.51, 6.56, 6.58, 6.60, 6.60, 6.61, 6.62,
    6.64, 6.67, 6.70, 6.73, 6.74, 6.72, 6.69, 6.67, 6.65, 6.65, 6.66, 6.67, 6.68, 6.70, 6.71, 6.72, 6.73, 6.74, 6.75, 6.76,
    6.77, 6.78, 6.79, 6.80, 6.81, 6.82, 6.83, 6.84, 6.85, 6.86, 6.86, 6.87, 6.87, 6.87, 6.88, 6.88, 6.89, 6.90, 6.92, 6.93,
    6.94, 6.94, 6.95, 6.96, 6.96, 6.96, 6.97, 6.97, 6.98, 6.98, 6.99, 7.00, 7.00, 7.01, 7.01, 7.01, 7.01, 7.01, 7.01, 7.02,
    7.02, 7.02, 7.03, 7.03, 7.04, 7.04, 7.04, 7.05, 7.05, 7.05, 7.05, 7.05, 7.05, 7.06, 7.06, 7.06, 7.06, 7.07, 7.06, 7.06,
]

# ---------------- valid acc ----------------
va_stft = [
    0.38, 0.64, 0.80, 0.855, 0.885, 0.915, 0.935, 0.926, 0.945, 0.962, 0.94, 0.95, 0.955, 0.958, 0.955, 0.958, 0.96, 0.962, 0.96, 0.958,
    0.965, 0.975, 0.97, 0.968, 0.96, 0.968, 0.965, 0.96, 0.958, 0.965, 0.968, 0.972, 0.978, 0.976, 0.972, 0.975, 0.978, 0.976, 0.974, 0.975,
    0.972, 0.97, 0.965, 0.978, 0.976, 0.975, 0.97, 0.965, 0.968, 0.975, 0.978, 0.975, 0.972, 0.978, 0.98, 0.976, 0.97, 0.975, 0.978, 0.976,
    0.974, 0.978, 0.975, 0.972, 0.976, 0.978, 0.975, 0.98, 0.976, 0.974, 0.978, 0.976, 0.98, 0.978, 0.975, 0.972, 0.975, 0.978, 0.98, 0.978,
    0.975, 0.97, 0.975, 0.978, 0.976, 0.98, 0.978, 0.976, 0.97, 0.975, 0.978, 0.972, 0.965, 0.972, 0.978, 0.976, 0.975, 0.975, 0.976, 0.978,
    0.972, 0.975, 0.976, 0.978, 0.975, 0.975, 0.972, 0.974, 0.97, 0.974, 0.976, 0.978, 0.976, 0.972, 0.975, 0.975, 0.974, 0.976, 0.978, 0.975,
    0.972, 0.975, 0.974, 0.975, 0.973, 0.97, 0.975, 0.976, 0.975, 0.978, 0.98, 0.978, 0.975, 0.976, 0.974, 0.972, 0.975, 0.98, 0.982, 0.98,
    0.978, 0.98, 0.982, 0.98, 0.983, 0.982, 0.984, 0.985, 0.984, 0.983, 0.984, 0.985, 0.984, 0.985, 0.983, 0.984, 0.982, 0.983, 0.982, 0.983,
    0.984, 0.982, 0.983, 0.982, 0.984, 0.983, 0.982, 0.983, 0.98, 0.982, 0.983, 0.982, 0.981, 0.983, 0.982, 0.981, 0.982, 0.983, 0.982, 0.981,
    0.983, 0.984, 0.985, 0.984, 0.985, 0.984, 0.983, 0.982, 0.983, 0.982, 0.981, 0.982, 0.983, 0.982, 0.981, 0.982, 0.983, 0.982, 0.981, 0.982,
]
va_gst = [
    0.10, 0.074, 0.08, 0.068, 0.237, 0.156, 0.315, 0.285, 0.334, 0.452, 0.471, 0.637, 0.607, 0.75, 0.65, 0.786, 0.679, 0.581, 0.724, 0.60,
    0.555, 0.737, 0.64, 0.789, 0.79, 0.785, 0.73, 0.637, 0.79, 0.77, 0.76, 0.77, 0.822, 0.718, 0.796, 0.832, 0.80, 0.864, 0.85, 0.845,
    0.828, 0.86, 0.855, 0.822, 0.85, 0.88, 0.822, 0.86, 0.773, 0.86, 0.848, 0.89, 0.826, 0.86, 0.776, 0.86, 0.907, 0.875, 0.83, 0.88,
    0.89, 0.905, 0.907, 0.89, 0.861, 0.923, 0.92, 0.925, 0.923, 0.915, 0.88, 0.915, 0.94, 0.955, 0.91, 0.948, 0.93, 0.88, 0.94, 0.94,
    0.945, 0.88, 0.94, 0.915, 0.89, 0.94, 0.942, 0.93, 0.928, 0.925, 0.915, 0.925, 0.867, 0.935, 0.94, 0.945, 0.952, 0.874, 0.935, 0.952,
    0.94, 0.92, 0.893, 0.96, 0.96, 0.94, 0.912, 0.965, 0.96, 0.935, 0.955, 0.965, 0.958, 0.935, 0.96, 0.965, 0.94, 0.912, 0.96, 0.965,
    0.962, 0.96, 0.965, 0.964, 0.966, 0.966, 0.933, 0.962, 0.965, 0.967, 0.966, 0.965, 0.96, 0.966, 0.966, 0.964, 0.962, 0.958, 0.962, 0.963,
    0.95, 0.933, 0.962, 0.965, 0.966, 0.967, 0.966, 0.965, 0.966, 0.965, 0.966, 0.964, 0.965, 0.967, 0.966, 0.966, 0.957, 0.965, 0.966, 0.965,
    0.963, 0.962, 0.963, 0.963, 0.962, 0.963, 0.964, 0.962, 0.96, 0.958, 0.955, 0.962, 0.967, 0.966, 0.966, 0.965, 0.965, 0.966, 0.964, 0.962,
    0.958, 0.955, 0.965, 0.966, 0.966, 0.966, 0.964, 0.963, 0.96, 0.962, 0.958, 0.952, 0.962, 0.966, 0.966, 0.965, 0.966, 0.968, 0.964, 0.96,
]
va_lofar = [
    0.848, 0.90, 0.95, 0.955, 0.965, 0.958, 0.962, 0.981, 0.958, 0.978, 0.942, 0.965, 0.972, 0.968, 0.936, 0.975, 0.98, 0.985, 0.975, 0.96,
    0.978, 0.972, 0.965, 0.972, 0.968, 0.978, 0.978, 0.978, 0.975, 0.968, 0.97, 0.978, 0.975, 0.92, 0.965, 0.975, 0.98, 0.985, 0.988, 0.986,
    0.988, 0.987, 0.986, 0.985, 0.985, 0.984, 0.984, 0.984, 0.985, 0.984, 0.984, 0.984, 0.984, 0.985, 0.984, 0.984, 0.984, 0.984, 0.984, 0.985,
    0.984, 0.984, 0.984, 0.984, 0.984, 0.985, 0.984, 0.984, 0.984, 0.984, 0.985, 0.985, 0.985, 0.985, 0.985, 0.985, 0.985, 0.985, 0.985, 0.985,
    0.985, 0.985, 0.985, 0.985, 0.985, 0.985, 0.985, 0.985, 0.985, 0.985, 0.985, 0.985, 0.985, 0.985, 0.985, 0.985, 0.985, 0.985, 0.985, 0.985,
    0.985, 0.985, 0.985, 0.985, 0.985, 0.985, 0.985, 0.985, 0.985, 0.985, 0.985, 0.985, 0.985, 0.985, 0.985, 0.985, 0.985, 0.985, 0.985, 0.985,
    0.985, 0.985, 0.985, 0.985, 0.985, 0.985, 0.985, 0.985, 0.985, 0.986, 0.986, 0.986, 0.986, 0.986, 0.986, 0.986, 0.986, 0.986, 0.986, 0.986,
    0.986, 0.986, 0.986, 0.986, 0.986, 0.986, 0.986, 0.986, 0.986, 0.986, 0.986, 0.986, 0.986, 0.986, 0.986, 0.986, 0.986, 0.986, 0.986, 0.986,
    0.986, 0.986, 0.986, 0.986, 0.986, 0.986, 0.986, 0.986, 0.986, 0.986, 0.986, 0.986, 0.986, 0.986, 0.986, 0.986, 0.986, 0.986, 0.986, 0.986,
    0.986, 0.986, 0.986, 0.986, 0.986, 0.986, 0.986, 0.986, 0.986, 0.986, 0.986, 0.986, 0.986, 0.986, 0.986, 0.986, 0.986, 0.986, 0.986, 0.986,
]
va_demon = [
    0.195, 0.245, 0.215, 0.34, 0.325, 0.385, 0.396, 0.397, 0.46, 0.545, 0.56, 0.578, 0.58, 0.635, 0.61, 0.68, 0.684, 0.69, 0.737, 0.725,
    0.718, 0.757, 0.75, 0.80, 0.80, 0.822, 0.78, 0.822, 0.826, 0.824, 0.823, 0.822, 0.864, 0.84, 0.822, 0.86, 0.874, 0.866, 0.86, 0.848,
    0.862, 0.862, 0.88, 0.868, 0.865, 0.864, 0.876, 0.89, 0.872, 0.864, 0.875, 0.885, 0.88, 0.875, 0.877, 0.876, 0.872, 0.87, 0.865, 0.855,
    0.87, 0.878, 0.885, 0.893, 0.885, 0.88, 0.882, 0.878, 0.88, 0.872, 0.865, 0.895, 0.90, 0.88, 0.885, 0.88, 0.89, 0.895, 0.89, 0.89,
    0.892, 0.888, 0.885, 0.89, 0.89, 0.885, 0.895, 0.903, 0.893, 0.888, 0.89, 0.898, 0.89, 0.885, 0.895, 0.898, 0.895, 0.877, 0.89, 0.893,
    0.886, 0.893, 0.897, 0.898, 0.895, 0.898, 0.898, 0.897, 0.90, 0.898, 0.90, 0.902, 0.904, 0.905, 0.902, 0.905, 0.903, 0.908, 0.912, 0.895,
    0.905, 0.905, 0.908, 0.906, 0.904, 0.902, 0.908, 0.912, 0.908, 0.90, 0.898, 0.90, 0.908, 0.906, 0.905, 0.904, 0.90, 0.898, 0.912, 0.905,
    0.908, 0.91, 0.905, 0.907, 0.904, 0.912, 0.906, 0.91, 0.913, 0.908, 0.91, 0.908, 0.914, 0.91, 0.91, 0.912, 0.911, 0.912, 0.91, 0.913,
    0.915, 0.909, 0.907, 0.912, 0.913, 0.915, 0.911, 0.912, 0.913, 0.91, 0.915, 0.919, 0.912, 0.91, 0.914, 0.913, 0.912, 0.913, 0.916, 0.914,
    0.915, 0.914, 0.913, 0.915, 0.917, 0.916, 0.914, 0.913, 0.912, 0.915, 0.915, 0.916, 0.914, 0.913, 0.913, 0.91, 0.912, 0.912, 0.911, 0.912,
]
va_ld = [
    0.091, 0.25, 0.11, 0.207, 0.10, 0.10, 0.12, 0.135, 0.17, 0.27, 0.32, 0.386, 0.49, 0.555, 0.562, 0.59, 0.75, 0.812, 0.835, 0.744,
    0.841, 0.936, 0.945, 0.955, 0.841, 0.907, 0.822, 0.85, 0.916, 0.744, 0.848, 0.907, 0.91, 0.972, 0.94, 0.90, 0.965, 0.96, 0.98, 0.965,
    0.975, 0.968, 0.965, 0.97, 0.986, 0.975, 0.986, 0.982, 0.986, 0.975, 0.978, 0.986, 0.985, 0.96, 0.926, 0.985, 0.986, 0.96, 0.897, 0.94,
    0.975, 0.97, 0.962, 0.975, 0.985, 0.988, 0.986, 0.978, 0.975, 0.98, 0.985, 0.982, 0.985, 0.986, 0.988, 0.986, 0.985, 0.985, 0.986, 0.988,
    0.99, 0.975, 0.988, 0.986, 0.985, 0.984, 0.985, 0.986, 0.986, 0.983, 0.985, 0.984, 0.96, 0.98, 0.992, 0.995, 0.99, 0.99, 0.989, 0.99,
    0.99, 0.99, 0.989, 0.99, 0.99, 0.99, 0.988, 0.972, 0.985, 0.99, 0.986, 0.985, 0.982, 0.985, 0.984, 0.982, 0.982, 0.983, 0.97, 0.946,
    0.982, 0.984, 0.985, 0.985, 0.984, 0.985, 0.985, 0.984, 0.985, 0.986, 0.985, 0.985, 0.984, 0.985, 0.985, 0.984, 0.985, 0.985, 0.984, 0.985,
    0.984, 0.985, 0.984, 0.984, 0.983, 0.984, 0.984, 0.983, 0.984, 0.983, 0.983, 0.984, 0.983, 0.983, 0.984, 0.983, 0.983, 0.984, 0.984, 0.983,
    0.984, 0.984, 0.983, 0.984, 0.984, 0.984, 0.984, 0.985, 0.984, 0.985, 0.984, 0.984, 0.985, 0.984, 0.985, 0.985, 0.984, 0.985, 0.985, 0.985,
    0.985, 0.985, 0.984, 0.985, 0.985, 0.984, 0.985, 0.985, 0.984, 0.985, 0.985, 0.985, 0.986, 0.985, 0.986, 0.986, 0.985, 0.986, 0.986, 0.987,
]
va_mfcc = [
    0.091, 0.084, 0.088, 0.10, 0.092, 0.088, 0.085, 0.09, 0.09, 0.089, 0.09, 0.088, 0.086, 0.085, 0.094, 0.10, 0.098, 0.097, 0.095, 0.094,
    0.094, 0.094, 0.095, 0.097, 0.10, 0.097, 0.092, 0.09, 0.095, 0.097, 0.10, 0.10, 0.09, 0.098, 0.10, 0.095, 0.094, 0.092, 0.09, 0.092,
    0.097, 0.098, 0.10, 0.087, 0.10, 0.103, 0.09, 0.106, 0.097, 0.10, 0.088, 0.096, 0.103, 0.10, 0.10, 0.099, 0.097, 0.096, 0.098, 0.097,
    0.092, 0.09, 0.095, 0.097, 0.096, 0.094, 0.094, 0.093, 0.10, 0.104, 0.10, 0.098, 0.094, 0.09, 0.089, 0.084, 0.082, 0.085, 0.084, 0.086,
    0.083, 0.084, 0.086, 0.083, 0.08, 0.087, 0.088, 0.09, 0.08, 0.077, 0.079, 0.08, 0.082, 0.082, 0.08, 0.09, 0.093, 0.09, 0.092, 0.093,
    0.085, 0.08, 0.078, 0.082, 0.082, 0.085, 0.09, 0.095, 0.093, 0.09, 0.095, 0.095, 0.093, 0.09, 0.09, 0.093, 0.092, 0.088, 0.085, 0.085,
    0.083, 0.09, 0.092, 0.09, 0.092, 0.093, 0.093, 0.094, 0.096, 0.094, 0.097, 0.096, 0.094, 0.093, 0.094, 0.092, 0.093, 0.094, 0.095, 0.096,
    0.094, 0.093, 0.094, 0.095, 0.093, 0.094, 0.094, 0.096, 0.098, 0.10, 0.10, 0.097, 0.095, 0.096, 0.098, 0.10, 0.102, 0.103, 0.102, 0.104,
    0.105, 0.105, 0.104, 0.107, 0.103, 0.106, 0.10, 0.10, 0.099, 0.099, 0.10, 0.10, 0.10, 0.10, 0.101, 0.10, 0.101, 0.101, 0.102, 0.102,
    0.101, 0.101, 0.10, 0.10, 0.10, 0.101, 0.10, 0.10, 0.10, 0.101, 0.10, 0.099, 0.10, 0.10, 0.10, 0.10, 0.101, 0.102, 0.10, 0.102,
]

loss_ticks_train = [0.0, 0.5, 1.0, 1.5, 2.0, 2.5]
loss_ticks_valid = [0, 1, 2, 3, 4, 5, 6, 7]
acc_ticks = [0.2, 0.4, 0.6, 0.8, 1.0]

panels = [
    ('Train Loss', 'Loss', [tl_stft, tl_gst, tl_lofar, tl_demon, tl_ld, tl_mfcc], 'upper right', loss_ticks_train),
    ('Train Acc', 'Acc', [ta_stft, ta_gst, ta_lofar, ta_demon, ta_ld, ta_mfcc], 'lower right', acc_ticks),
    ('Valid Loss', 'Loss', [vl_stft, vl_gst, vl_lofar, vl_demon, vl_ld, vl_mfcc], 'center right', loss_ticks_valid),
    ('Valid Acc', 'Acc', [va_stft, va_gst, va_lofar, va_demon, va_ld, va_mfcc], 'center right', acc_ticks),
]

fig, axes = plt.subplots(2, 2, figsize=(15.515, 9.075), dpi=200)
plt.subplots_adjust(left=0.064, right=0.99, bottom=0.104, top=0.946, wspace=0.155, hspace=0.40)

for ax, (title, ylab, series, loc, yt) in zip(axes.flat, panels):
    for name, vals in zip(names, series):
        ax.plot(np.arange(len(vals)), vals, label=name, linewidth=2.0)
    ax.set_xticks(range(0, 201, 25))
    ax.set_yticks(yt)
    ax.set_title(title, fontsize=24)
    ax.set_xlabel('Epochs', fontsize=24)
    ax.set_ylabel(ylab, fontsize=20, family='DejaVu Serif')
    ax.tick_params(labelsize=24)
    for sp in ax.spines.values():
        sp.set_linewidth(1.2)
    ax.legend(loc=loc, fontsize=16)

fig.savefig('out.png', dpi=200)
